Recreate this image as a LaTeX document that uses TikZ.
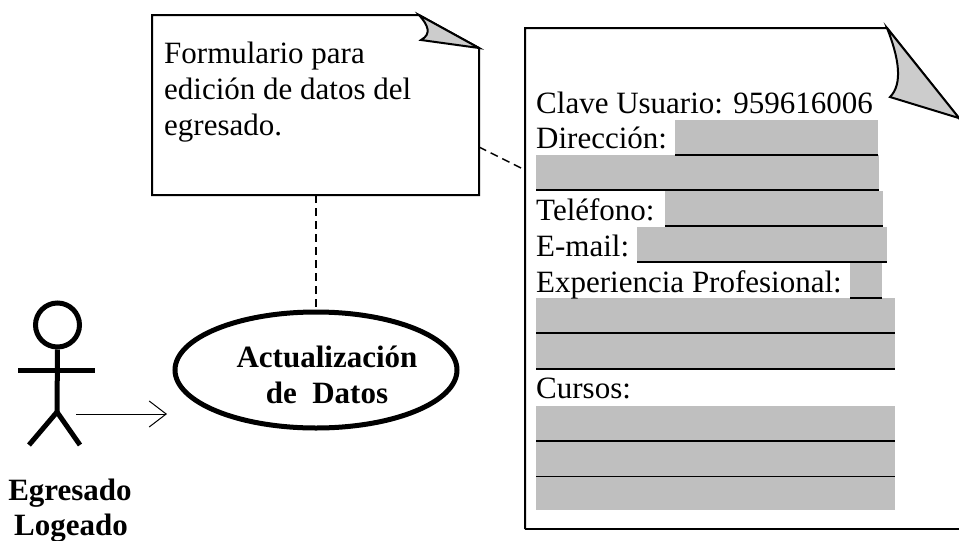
\documentclass[tikz,border=0pt]{standalone}
\usepackage{fontspec}
\setmainfont{Liberation Serif}
\usetikzlibrary{arrows.meta,shapes.geometric}
\definecolor{campo}{gray}{0.75}
\definecolor{pliegue}{gray}{0.8}
\tikzset{
  texto/.style={anchor=base west,inner sep=0pt,font=\fontsize{31}{36}\selectfont},
  titulo/.style={anchor=base,inner sep=0pt,font=\fontsize{31}{36}\selectfont\bfseries},
  nota/.style={line width=2pt,line join=miter},
  guion/.style={line width=1.5pt,dash pattern=on 8pt off 5pt},
  palo/.style={line width=5pt}
}
\begin{document}
\begin{tikzpicture}[x=1pt,y=-1pt]
    \useasboundingbox (0,0) rectangle (959,541);
    \foreach \xa/\xb/\ya/\yb in {675/878/120/155,536/879/155/190,665/883/191/226,637/887/227/262,
      850/882/263/298,536/895/298/333,536/895/333/369,536/895/406/441,536/895/441/476,536/895/476/510}
      \fill[campo] (\xa,\ya) rectangle (\xb,\yb);
    \foreach \xa/\xb/\y in {675/878/155,536/879/190,665/883/226,637/887/262,
      850/882/298,536/895/333,536/895/369,536/895/441}
      \draw[line width=1.5pt] (\xa,\y) -- (\xb,\y);
    \draw[line width=.8pt] (536,476) -- (895,476);
    \draw[nota] (152,15) -- (419,15) -- (479,48) -- (479,195) -- (152,195) -- cycle;
    \draw[nota,fill=pliegue] (419,15)
    .. controls (428,25) and (432,34) .. (421,40)
    -- (479,48) -- cycle;
    \draw[nota] (525,529) -- (525,28) -- (887,28) -- (962,122);
    \draw[nota] (525,529) -- (962,529);
    \draw[nota,fill=pliegue] (887,28)
    .. controls (899,58) and (903,84) .. (890,97)
    -- (962,119) -- (959,118) -- cycle;
    \coordinate (N1) at (316,195);
    \coordinate (N2) at (479,147);
    \coordinate (N3) at (525,170);
    \node (F1) at (164,63) [texto] {Formulario para};
    \node (F2) at (164,99) [texto] {edición de datos del};
    \node (F3) at (164,135) [texto] {egresado.};
    \node (C) at (536,113) [texto] {Clave Usuario: 959616006};
    \node (D) at (536,148) [texto] {Dirección:};
    \node (T) at (536,220) [texto] {Teléfono:};
    \node (M) at (536,256) [texto] {E-mail:};
    \node (P) at (536,292) [texto] {Experiencia Profesional:};
    \node (K) at (536,398) [texto] {Cursos:};
    \node (U) at (316,370) [ellipse,draw,line width=5pt,minimum width=282pt,minimum height=116pt,inner sep=0pt] {};
    \node (U1) at (327,367) [titulo] {Actualización};
    \node (U2) at (327,403) [titulo] {de\ \ Datos};
    \draw[guion] (N1) -- (U.north);
    \draw[guion] (N2) -- (N3);
    \node (H) at (57.5,325) [circle,draw,palo,minimum size=44pt,inner sep=0pt] {};
    \coordinate (B) at (57,412);
    \coordinate (L) at (18,370);
    \coordinate (R) at (95,370);
    \coordinate (I) at (29,445);
    \coordinate (J) at (80,445);
    \draw[palo] (H.south) -- (B);
    \draw[palo] (L) -- (R);
    \draw[palo] (I) -- (B) -- (J);
    \coordinate (A1) at (76,414);
    \coordinate (A2) at (167,414);
    \draw[-{Straight Barb[length=17pt,width=26pt]},line width=1pt] (A1) -- (A2);
    \node (E1) at (70,500) [titulo] {Egresado};
    \node (E2) at (71,535) [titulo] {Logeado};
  \end{tikzpicture}
\end{document}
